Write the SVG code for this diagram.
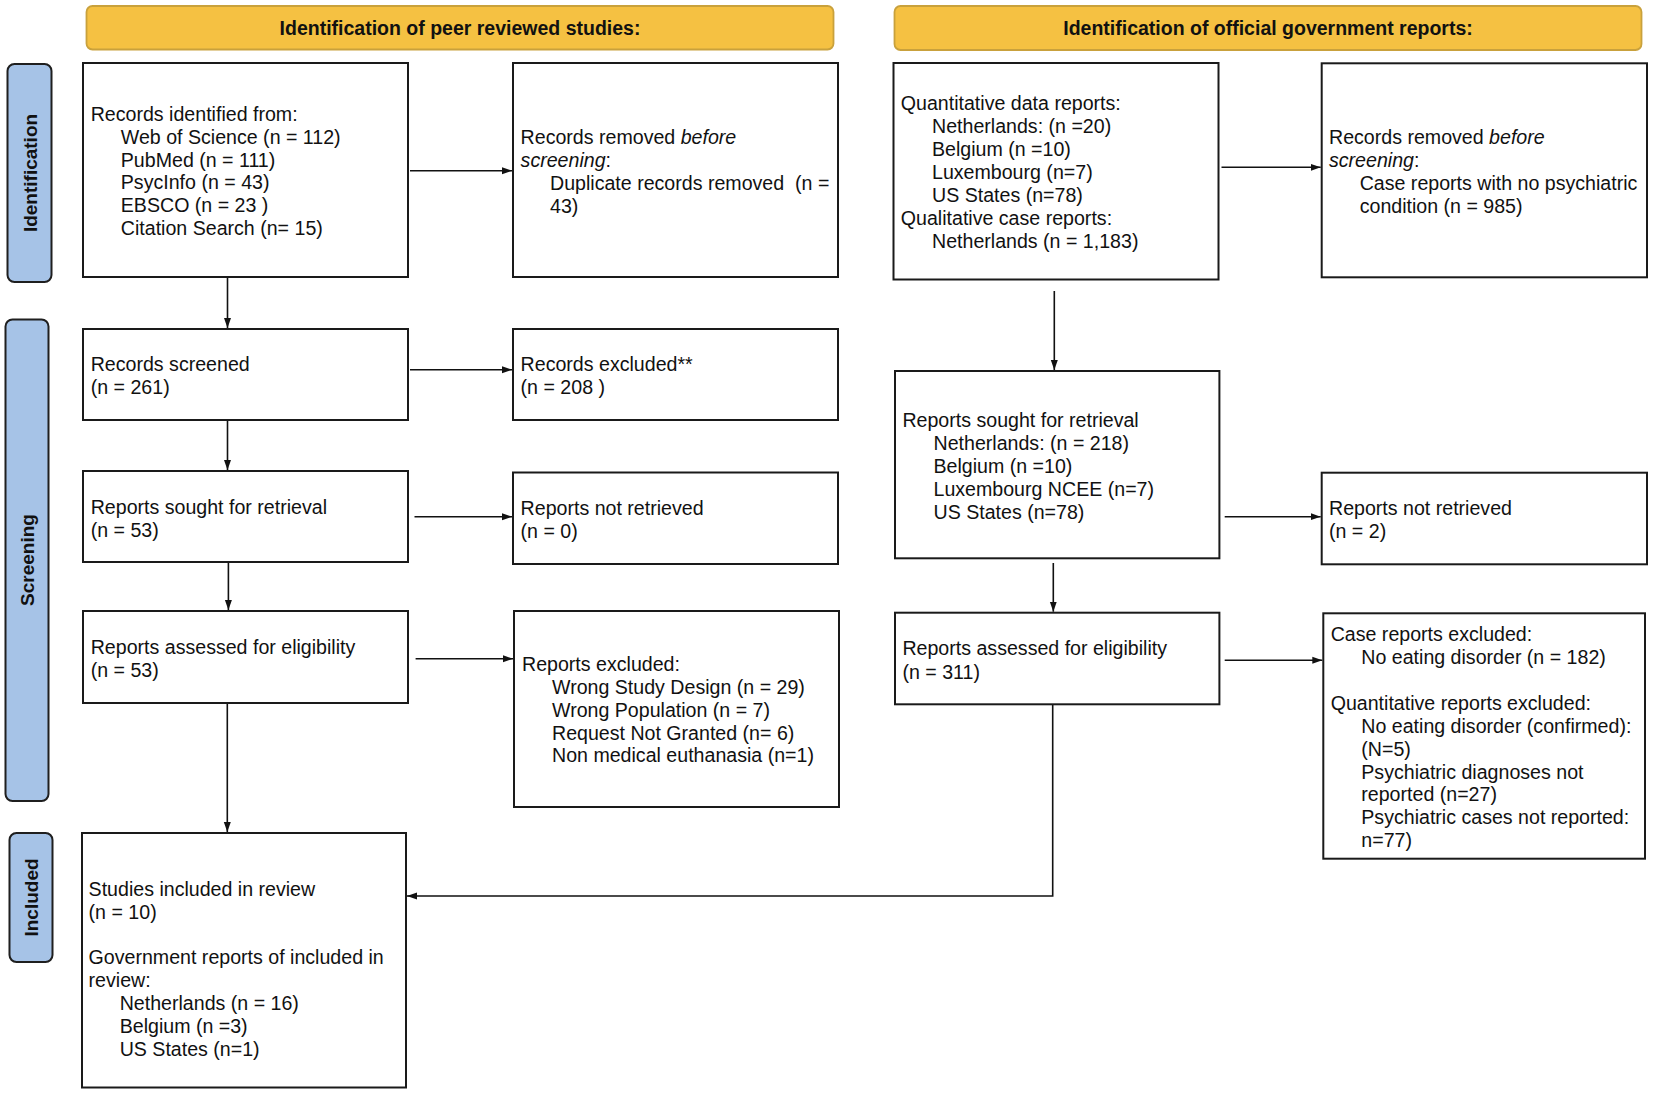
<svg xmlns="http://www.w3.org/2000/svg" width="1654" height="1095" viewBox="0 0 1654 1095">
<style>
.bg{fill:#ffffff}
.hdr{fill:#f5c142;stroke:#c9a13c;stroke-width:1.8}
.tab{fill:#a6c3e7;stroke:#1f1f1f;stroke-width:2}
.box{fill:#ffffff;stroke:#1a1a1a;stroke-width:2}
.t{font-family:"Liberation Sans",Arial,sans-serif;font-size:19.6px;fill:#111111}
.ht{font-family:"Liberation Sans",Arial,sans-serif;font-size:19.5px;font-weight:bold;fill:#111111;text-anchor:middle}
.tt{font-family:"Liberation Sans",Arial,sans-serif;font-size:19px;font-weight:bold;fill:#111111;text-anchor:middle;dominant-baseline:central}
.i{font-style:italic}
.ln{fill:none;stroke:#111111;stroke-width:1.6}
</style>
<defs>
<marker id="ah" markerUnits="userSpaceOnUse" markerWidth="11" markerHeight="8" refX="10" refY="4" orient="auto">
<path d="M0,0.5 L10,4 L0,7.5 z" fill="#111111"/>
</marker>
</defs>
<rect class="bg" x="0" y="0" width="1654" height="1095"/>

<g id="header-peer">
<rect class="hdr" x="86.5" y="6" width="747" height="43.5" rx="6"/>
<text class="ht" x="460" y="35">Identification of peer reviewed studies:</text>
</g>
<g id="header-gov">
<rect class="hdr" x="894.5" y="6" width="747" height="44" rx="6"/>
<text class="ht" x="1268" y="35">Identification of official government reports:</text>
</g>

<g id="tab-identification">
<rect class="tab" x="7.5" y="64" width="44" height="218" rx="7"/>
<text class="tt" transform="translate(30,173) rotate(-90)">Identification</text>
</g>
<g id="tab-screening">
<rect class="tab" x="5.5" y="319.5" width="43" height="481.5" rx="7"/>
<text class="tt" transform="translate(27.5,560) rotate(-90)">Screening</text>
</g>
<g id="tab-included">
<rect class="tab" x="9.5" y="833" width="43" height="129" rx="7"/>
<text class="tt" transform="translate(31,897.5) rotate(-90)">Included</text>
</g>

<g id="records-identified">
<rect class="box" x="83" y="63" width="325" height="214"/>
<text class="t" x="90.7" y="120.7">Records identified from:</text>
<text class="t" x="120.8" y="143.7">Web of Science (n = 112)</text>
<text class="t" x="120.8" y="166.5">PubMed (n = 111)</text>
<text class="t" x="120.8" y="189.3">PsycInfo (n = 43)</text>
<text class="t" x="120.8" y="212.1">EBSCO (n = 23 )</text>
<text class="t" x="120.8" y="235">Citation Search (n= 15)</text>
</g>
<g id="records-removed">
<rect class="box" x="513" y="63" width="325" height="214"/>
<text class="t" x="520.6" y="143.5">Records removed <tspan class="i">before</tspan></text>
<text class="t" x="520.6" y="166.5"><tspan class="i">screening</tspan>:</text>
<text class="t" x="550" y="189.5" xml:space="preserve">Duplicate records removed  (n =</text>
<text class="t" x="550" y="212.5">43)</text>
</g>
<g id="records-screened">
<rect class="box" x="83" y="329" width="325" height="91"/>
<text class="t" x="90.7" y="370.8">Records screened</text>
<text class="t" x="90.7" y="394">(n = 261)</text>
</g>
<g id="records-excluded">
<rect class="box" x="513" y="329" width="325" height="91"/>
<text class="t" x="520.6" y="370.8">Records excluded**</text>
<text class="t" x="520.6" y="394">(n = 208 )</text>
</g>
<g id="reports-sought">
<rect class="box" x="83" y="471" width="325" height="91"/>
<text class="t" x="90.7" y="513.5">Reports sought for retrieval</text>
<text class="t" x="90.7" y="536.8">(n = 53)</text>
</g>
<g id="reports-not-retrieved">
<rect class="box" x="513" y="472.5" width="325" height="91.5"/>
<text class="t" x="520.6" y="514.5">Reports not retrieved</text>
<text class="t" x="520.6" y="537.8">(n = 0)</text>
</g>
<g id="reports-assessed">
<rect class="box" x="83" y="611" width="325" height="92"/>
<text class="t" x="90.7" y="653.5">Reports assessed for eligibility</text>
<text class="t" x="90.7" y="676.8">(n = 53)</text>
</g>
<g id="reports-excluded">
<rect class="box" x="514" y="611" width="325" height="196"/>
<text class="t" x="522" y="670.8">Reports excluded:</text>
<text class="t" x="552" y="694">Wrong Study Design (n = 29)</text>
<text class="t" x="552" y="716.8">Wrong Population (n = 7)</text>
<text class="t" x="552" y="739.5">Request Not Granted (n= 6)</text>
<text class="t" x="552" y="762.2">Non medical euthanasia (n=1)</text>
</g>
<g id="included">
<rect class="box" x="82" y="833" width="324" height="254.5"/>
<text class="t" x="88.6" y="895.5">Studies included in review</text>
<text class="t" x="88.6" y="918.8">(n = 10)</text>
<text class="t" x="88.6" y="964">Government reports of included in</text>
<text class="t" x="88.6" y="986.8">review:</text>
<text class="t" x="119.7" y="1010">Netherlands (n = 16)</text>
<text class="t" x="119.7" y="1032.8">Belgium (n =3)</text>
<text class="t" x="119.7" y="1055.5">US States (n=1)</text>
</g>

<g id="gov-quantitative">
<rect class="box" x="893.5" y="63" width="325" height="216.5"/>
<text class="t" x="900.8" y="110">Quantitative data reports:</text>
<text class="t" x="932" y="133">Netherlands: (n =20)</text>
<text class="t" x="932" y="156">Belgium (n =10)</text>
<text class="t" x="932" y="179">Luxembourg (n=7)</text>
<text class="t" x="932" y="202">US States (n=78)</text>
<text class="t" x="900.8" y="225">Qualitative case reports:</text>
<text class="t" x="932" y="248">Netherlands (n = 1,183)</text>
</g>
<g id="gov-removed">
<rect class="box" x="1321.7" y="63.3" width="325.3" height="214"/>
<text class="t" x="1329" y="143.5">Records removed <tspan class="i">before</tspan></text>
<text class="t" x="1329" y="166.8"><tspan class="i">screening</tspan>:</text>
<text class="t" x="1359.7" y="189.5">Case reports with no psychiatric</text>
<text class="t" x="1359.7" y="212.5">condition (n = 985)</text>
</g>
<g id="gov-sought">
<rect class="box" x="895" y="371" width="324.4" height="187.3"/>
<text class="t" x="902.4" y="426.8">Reports sought for retrieval</text>
<text class="t" x="933.5" y="450">Netherlands: (n = 218)</text>
<text class="t" x="933.5" y="472.5">Belgium (n =10)</text>
<text class="t" x="933.5" y="495.8">Luxembourg NCEE (n=7)</text>
<text class="t" x="933.5" y="518.5">US States (n=78)</text>
</g>
<g id="gov-not-retrieved">
<rect class="box" x="1321.7" y="472.7" width="325.3" height="91.6"/>
<text class="t" x="1329" y="514.5">Reports not retrieved</text>
<text class="t" x="1329" y="537.8">(n = 2)</text>
</g>
<g id="gov-assessed">
<rect class="box" x="895" y="612.7" width="324.4" height="91.6"/>
<text class="t" x="902.4" y="655">Reports assessed for eligibility</text>
<text class="t" x="902.4" y="678.5">(n = 311)</text>
</g>
<g id="gov-excluded">
<rect class="box" x="1323.3" y="613.3" width="321.7" height="245.4"/>
<text class="t" x="1330.7" y="640.8">Case reports excluded:</text>
<text class="t" x="1361.3" y="663.8">No eating disorder (n = 182)</text>
<text class="t" x="1330.7" y="709.5">Quantitative reports excluded:</text>
<text class="t" x="1361.3" y="732.8">No eating disorder (confirmed):</text>
<text class="t" x="1361.3" y="755.5">(N=5)</text>
<text class="t" x="1361.3" y="778.5">Psychiatric diagnoses not</text>
<text class="t" x="1361.3" y="801">reported (n=27)</text>
<text class="t" x="1361.3" y="824">Psychiatric cases not reported:</text>
<text class="t" x="1361.3" y="846.8">n=77)</text>
</g>

<g id="connectors">
<line class="ln" x1="227.5" y1="278" x2="227.5" y2="328" marker-end="url(#ah)"/>
<line class="ln" x1="410" y1="170.7" x2="512" y2="170.7" marker-end="url(#ah)"/>
<line class="ln" x1="410" y1="369.7" x2="512" y2="369.7" marker-end="url(#ah)"/>
<line class="ln" x1="227.5" y1="421" x2="227.5" y2="470" marker-end="url(#ah)"/>
<line class="ln" x1="414.5" y1="516.7" x2="512" y2="516.7" marker-end="url(#ah)"/>
<line class="ln" x1="228.4" y1="563" x2="228.4" y2="610" marker-end="url(#ah)"/>
<line class="ln" x1="415.6" y1="658.7" x2="513" y2="658.7" marker-end="url(#ah)"/>
<line class="ln" x1="227.3" y1="704" x2="227.3" y2="832" marker-end="url(#ah)"/>
<line class="ln" x1="1221.5" y1="167.3" x2="1320.7" y2="167.3" marker-end="url(#ah)"/>
<line class="ln" x1="1054.3" y1="291" x2="1054.3" y2="370" marker-end="url(#ah)"/>
<line class="ln" x1="1224.7" y1="516.7" x2="1320.7" y2="516.7" marker-end="url(#ah)"/>
<line class="ln" x1="1053.3" y1="563" x2="1053.3" y2="611.7" marker-end="url(#ah)"/>
<line class="ln" x1="1224.7" y1="660.3" x2="1322.3" y2="660.3" marker-end="url(#ah)"/>
<polyline class="ln" points="1052.7,705 1052.7,896 407,896" marker-end="url(#ah)"/>
</g>
</svg>
